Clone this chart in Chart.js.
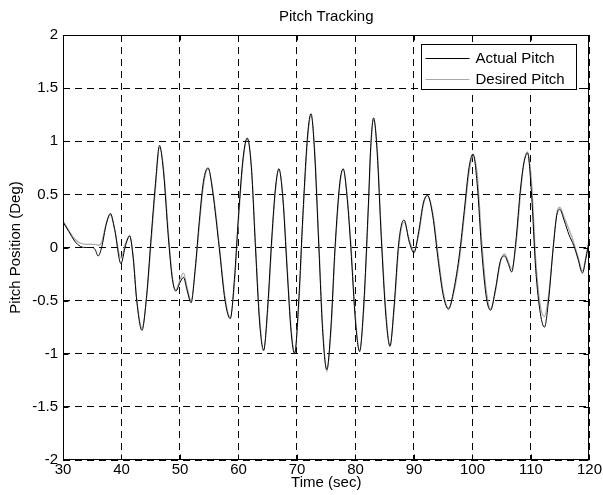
<!DOCTYPE html>
<html>
<head>
<meta charset="utf-8">
<script src="https://cdn.jsdelivr.net/npm/chart.js@4"></script>
<style>
  html, body { margin: 0; padding: 0; background: #fff; }
  #grafico { display: block; }
</style>
</head>
<body>
<canvas id="grafico" width="603" height="495"></canvas>
<script>
// Tiempo (sec) y posiciones
var tiempos = [
  30, 31, 32, 33, 34, 35, 35.5, 36, 36.6, 37.4, 38.1, 38.8, 39.9, 40.7, 41.4, 42.0, 42.6, 43.5, 44.3, 45.0,
  45.8, 46.5, 47.2, 48.0, 48.7, 49.3, 50.0, 50.6, 51.2, 51.9, 52.6, 53.3, 54.0, 54.8, 55.6, 56.7, 57.7, 58.6,
  59.3, 60.0, 60.8, 61.5, 62.2, 62.9, 63.6, 64.3, 65.0, 65.7, 66.3, 66.9, 67.6, 68.3, 69.0, 69.6, 70.3, 71.0,
  71.8, 72.4, 73.0, 73.7, 74.4, 75.1, 75.8, 76.5, 77.3, 77.9, 78.6, 79.2, 80.0, 80.7, 81.4, 82.2, 82.6, 83.1,
  83.7, 84.4, 85.2, 85.9, 86.6, 87.4, 88.3, 89.2, 90.0, 90.8, 91.6, 92.3, 93.2, 94.2, 95.0, 95.9, 96.8, 97.8,
  98.6, 99.4, 100.1, 100.8, 101.6, 102.4, 103.1, 103.9, 104.8, 105.5, 106.1, 106.7, 107.4, 108.2, 108.8, 109.4,
  110.1, 110.8, 111.6, 112.3, 113.0, 113.8, 114.4, 114.9, 115.7, 116.5, 117.3, 118.0, 118.8, 119.4, 120
]
var pitchReal = [
  0.24, 0.15, 0.06, 0.01, 0.0, 0.0, -0.02, -0.08, 0.0, 0.22, 0.32, 0.18, -0.15, 0.02, 0.11, -0.1, -0.5, -0.78, -0.45, 0.05,
  0.6, 0.96, 0.7, 0.1, -0.3, -0.41, -0.33, -0.28, -0.4, -0.52, -0.2, 0.25, 0.62, 0.75, 0.52, 0.0, -0.5, -0.67,
  -0.3, 0.3, 0.85, 1.03, 0.75, 0.0, -0.7, -0.97, -0.55, 0.1, 0.55, 0.74, 0.45, -0.2, -0.8, -1.0, -0.5, 0.3,
  1.05, 1.26, 0.9, 0.05, -0.8, -1.15, -0.75, 0.0, 0.6, 0.74, 0.45, 0.0, -0.7, -0.98, -0.55, 0.4, 0.95, 1.22,
  0.9, 0.1, -0.65, -0.93, -0.55, 0.05, 0.26, 0.05, -0.05, 0.15, 0.42, 0.49, 0.3, -0.15, -0.45, -0.58, -0.4, -0.05,
  0.35, 0.75, 0.88, 0.6, -0.05, -0.48, -0.59, -0.4, -0.12, -0.08, -0.15, -0.23, 0.05, 0.55, 0.8, 0.89,
  0.5, -0.2, -0.62, -0.75, -0.5, 0.0, 0.3, 0.36, 0.25, 0.12, 0.02, -0.1, -0.24, -0.1, 0.08
]
var pitchDeseado = [
  0.25, 0.16, 0.08, 0.04, 0.03, 0.03, 0.03, 0.02, 0.05, 0.23, 0.31, 0.18, -0.1, 0.04, 0.11, -0.08, -0.48, -0.76, -0.47, 0.0,
  0.55, 0.94, 0.74, 0.15, -0.28, -0.4, -0.3, -0.24, -0.37, -0.5, -0.22, 0.2, 0.58, 0.74, 0.55, 0.03, -0.47, -0.66,
  -0.35, 0.25, 0.82, 1.02, 0.78, 0.05, -0.65, -0.96, -0.6, 0.05, 0.52, 0.74, 0.48, -0.15, -0.76, -0.99, -0.55, 0.25,
  1.0, 1.24, 0.95, 0.1, -0.75, -1.17, -0.8, -0.05, 0.57, 0.74, 0.48, 0.05, -0.66, -0.97, -0.6, 0.35, 0.9, 1.2,
  0.95, 0.15, -0.6, -0.92, -0.6, 0.0, 0.24, 0.07, -0.03, 0.12, 0.4, 0.49, 0.33, -0.1, -0.42, -0.57, -0.43, -0.1,
  0.3, 0.7, 0.86, 0.7, 0.05, -0.42, -0.58, -0.42, -0.13, -0.06, -0.13, -0.2, 0.0, 0.5, 0.8, 0.9,
  0.62, -0.1, -0.55, -0.65, -0.45, 0.0, 0.32, 0.38, 0.28, 0.17, 0.05, -0.08, -0.22, -0.08, 0.1
]
var etiquetas = ["Actual Pitch", "Desired Pitch"]
var titulo = "Pitch Tracking"

var fuente = "'Liberation Sans', Arial, sans-serif"

function puntos(valores) {
  return tiempos.map(function (t, i) { return { x: t, y: valores[i] } })
}

// Marco, marcas interiores, titulo y leyenda estilo MATLAB
var marcoPlugin = {
  id: "marco",
  afterDatasetsDraw: function (chart) {
    var ctx = chart.ctx
    var a = chart.chartArea
    var sx = chart.scales.x
    var sy = chart.scales.y
    var l = Math.round(a.left) + 0.5, r = Math.round(a.right) - 0.5
    var t = Math.round(a.top) + 0.5, b = Math.round(a.bottom) - 0.5
    ctx.save()
    ctx.strokeStyle = "#000"
    ctx.lineWidth = 1
    ctx.setLineDash([])
    ctx.strokeRect(l, t, r - l, b - t)
    ctx.beginPath()
    sx.ticks.forEach(function (tk) {
      var px = Math.round(sx.getPixelForValue(tk.value)) + 0.5
      ctx.moveTo(px, b); ctx.lineTo(px, b - 5)
      ctx.moveTo(px, t); ctx.lineTo(px, t + 5)
    })
    sy.ticks.forEach(function (tk) {
      var py = Math.round(sy.getPixelForValue(tk.value)) + 0.5
      ctx.moveTo(l, py); ctx.lineTo(l + 5, py)
      ctx.moveTo(r, py); ctx.lineTo(r - 5, py)
    })
    ctx.stroke()

    // Titulo centrado sobre el area de trazado
    ctx.fillStyle = "#000"
    ctx.font = "15px " + fuente
    ctx.textAlign = "center"
    ctx.textBaseline = "middle"
    ctx.fillText(titulo, (a.left + a.right) / 2, 17)

    // Leyenda
    var lr = Math.round(a.right) - 12.5
    var ll = lr - 155
    var lt = Math.round(a.top) + 9.5
    var lb = lt + 45
    ctx.fillStyle = "#fff"
    ctx.fillRect(ll, lt, lr - ll, lb - lt)
    ctx.strokeStyle = "#000"
    ctx.strokeRect(ll, lt, lr - ll, lb - lt)
    ctx.font = "15px " + fuente
    ctx.textBaseline = "middle"
    ctx.textAlign = "left"
    chart.data.datasets.forEach(function (ds, i) {
      var y = Math.round(lt + 13 + i * 21) + 0.5
      ctx.strokeStyle = ds.borderColor
      ctx.beginPath()
      ctx.moveTo(ll + 4, y)
      ctx.lineTo(ll + 48, y)
      ctx.stroke()
      ctx.fillStyle = "#000"
      ctx.fillText(ds.label, ll + 54, y)
    })
    ctx.restore()
  },
}

var ctxPitch = document.getElementById("grafico").getContext("2d")
var chartPitch = new Chart(ctxPitch, {
  type: "line",
  data: {
    datasets: [
      {
        label: etiquetas[0],
        data: puntos(pitchReal),
        borderColor: "#000000",
        borderWidth: 1,
        pointRadius: 0,
        fill: false,
        cubicInterpolationMode: "monotone",
      },
      {
        label: etiquetas[1],
        data: puntos(pitchDeseado),
        borderColor: "#a8a8a8",
        borderWidth: 1.2,
        pointRadius: 0,
        fill: false,
        cubicInterpolationMode: "monotone",
      },
    ],
  },
  options: {
    responsive: false,
    animation: false,
    devicePixelRatio: 1,
    layout: { padding: { left: 0, right: 13, top: 35, bottom: 0 } },
    scales: {
      x: {
        type: "linear",
        min: 30,
        max: 120,
        ticks: {
          stepSize: 10,
          padding: 1,
          color: "#000",
          font: { family: fuente, size: 15 },
          maxRotation: 0,
        },
        grid: { color: "#000", lineWidth: 1, drawTicks: false },
        border: { display: false, dash: [7, 5] },
        title: {
          display: true,
          text: "Time (sec)",
          color: "#000",
          font: { family: fuente, size: 15 },
          padding: { top: 0, bottom: 3 },
        },
        afterFit: function (scale) { scale.height = 35 },
      },
      y: {
        min: -2,
        max: 2,
        ticks: {
          stepSize: 0.5,
          padding: 5,
          color: "#000",
          font: { family: fuente, size: 15 },
          callback: function (v) { return String(v) },
        },
        grid: { color: "#000", lineWidth: 1, drawTicks: false },
        border: { display: false, dash: [7, 5] },
        title: {
          display: true,
          text: "Pitch Position (Deg)",
          color: "#000",
          font: { family: fuente, size: 15 },
          padding: { top: 7, bottom: 0 },
        },
        afterFit: function (scale) { scale.width = 63 },
      },
    },
    plugins: {
      legend: { display: false },
      tooltip: { enabled: false },
      title: { display: false },
    },
  },
  plugins: [marcoPlugin],
})
</script>
</body>
</html>
